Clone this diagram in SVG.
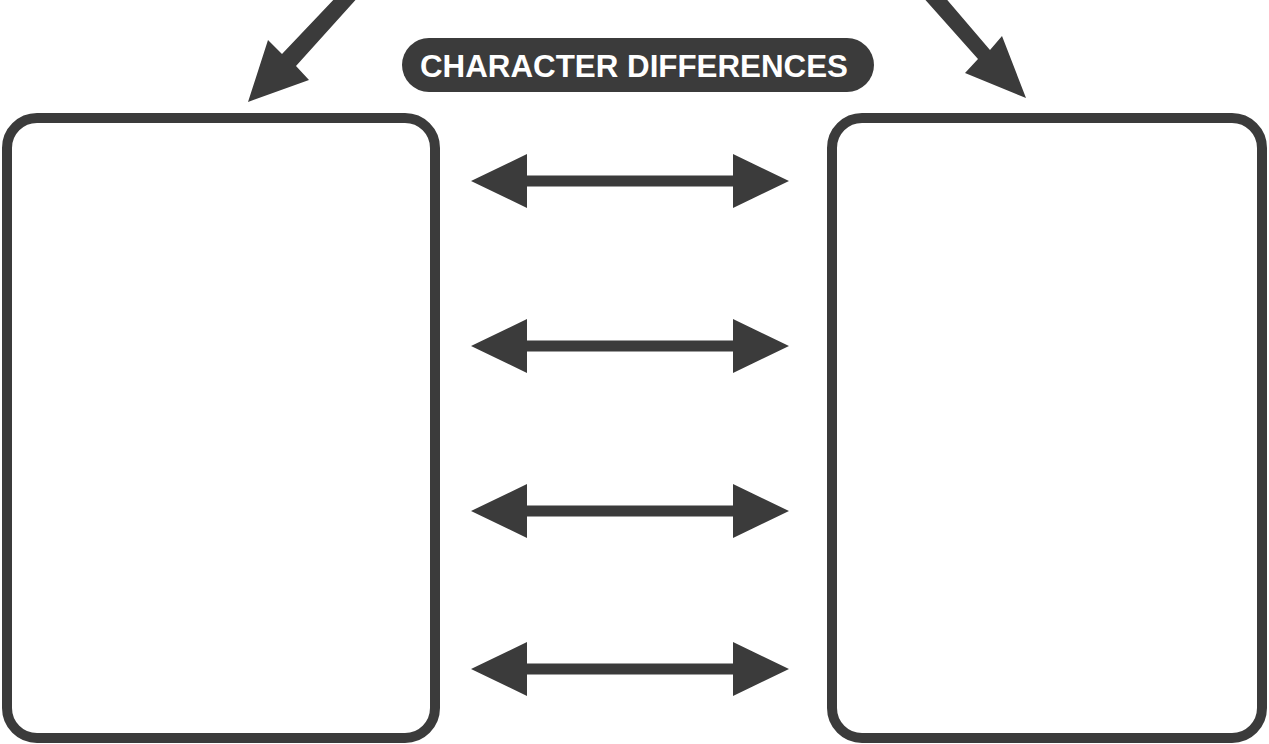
<svg xmlns="http://www.w3.org/2000/svg" width="1269" height="744" viewBox="0 0 1269 744">
<style>
.box{fill:#fff;stroke:#3b3b3b;stroke-width:10}
.arr{fill:#3b3b3b}
.title{font-family:"Liberation Sans","DejaVu Sans",sans-serif;font-weight:bold;font-size:31px;fill:#fff}
</style>
<defs>
<polygon id="dbl" points="0,0 56,-27 56,-5.5 262,-5.5 262,-27 318,0 262,27 262,5.5 56,5.5 56,27"/>
</defs>
<rect width="1269" height="744" fill="#fff"/>
<g id="title">
<rect x="402" y="38" width="472" height="54" rx="27" fill="#3b3b3b"/>
<text class="title" x="634" y="77" text-anchor="middle" textLength="428" lengthAdjust="spacingAndGlyphs">CHARACTER DIFFERENCES</text>
</g>
<g id="left-box"><rect class="box" x="7" y="118" width="428" height="620" rx="30"/></g>
<g id="right-box"><rect class="box" x="832" y="118" width="430" height="620" rx="30"/></g>
<g id="connectors">
<polygon class="arr" points="338,-5 360,-5 296,66 309,80 248,102 268,40 282,54"/>
<polygon class="arr" points="921,-5 943,-5 990,50 1002,36 1026,98 965,73 978,59"/>
<use href="#dbl" class="arr" transform="translate(471,181)"/>
<use href="#dbl" class="arr" transform="translate(471,346)"/>
<use href="#dbl" class="arr" transform="translate(471,511)"/>
<use href="#dbl" class="arr" transform="translate(471,669)"/>
</g>
</svg>
